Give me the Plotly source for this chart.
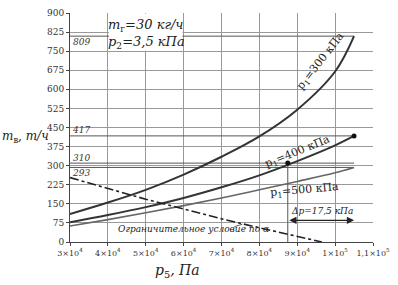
import plotly.graph_objects as go

# ---- data ----
p5 = [3e4, 4e4, 5e4, 6e4, 7e4, 8e4, 9e4, 1e5, 1.05e5]
m_p300 = [110, 155, 205, 265, 335, 415, 520, 670, 809]
m_p400 = [78, 106, 137, 173, 215, 262, 318, 380, 417]
m_p500 = [63, 88, 115, 143, 173, 205, 238, 272, 293]

p5_limit = [3e4, 4e4, 5e4, 6e4, 7e4, 8e4, 9e4, 9.65e4]
m_limit = [253, 209, 168, 130, 91, 56, 23, 0]

ref_levels = [809, 417, 310, 293]
ref_labels = ["809", "417", "310", "293"]
dp_start, dp_end = 8.75e4, 1.05e5

xtick_vals = [3e4, 4e4, 5e4, 6e4, 7e4, 8e4, 9e4, 1e5, 1.1e5]
xtick_text = ["3×10<sup>4</sup>", "4×10<sup>4</sup>", "5×10<sup>4</sup>", "6×10<sup>4</sup>",
              "7×10<sup>4</sup>", "8×10<sup>4</sup>", "9×10<sup>4</sup>", "1×10<sup>5</sup>",
              "1,1×10<sup>5</sup>"]
ytick_vals = list(range(0, 901, 75))

FONT = "DejaVu Serif"
fig = go.Figure()

for lv in ref_levels:
    fig.add_trace(go.Scatter(x=[3e4, 1.05e5], y=[lv, lv], mode="lines",
                             line=dict(color="#555", width=1), hoverinfo="skip", showlegend=False))
fig.add_trace(go.Scatter(x=[dp_start, dp_start], y=[0, 310], mode="lines",
                         line=dict(color="#555", width=1), showlegend=False))

fig.add_trace(go.Scatter(x=p5, y=m_p500, mode="lines", line=dict(color="#666", width=1.6, shape="spline"), showlegend=False))
fig.add_trace(go.Scatter(x=p5, y=m_p400, mode="lines", line=dict(color="#333", width=2, shape="spline"), showlegend=False))
fig.add_trace(go.Scatter(x=p5, y=m_p300, mode="lines", line=dict(color="#333", width=2, shape="spline"), showlegend=False))
fig.add_trace(go.Scatter(x=p5_limit, y=m_limit, mode="lines",
                         line=dict(color="#222", width=1.6, dash="dashdot"), showlegend=False))
fig.add_trace(go.Scatter(x=[dp_start, 1.05e5], y=[310, 417], mode="markers",
                         marker=dict(color="#111", size=5), showlegend=False))

fig.add_shape(type="rect", xref="x", yref="y", x0=4.03e4, x1=5.97e4, y0=752, y1=897,
              fillcolor="white", line=dict(width=0), layer="above")
fig.add_annotation(x=5.03e4, y=818, xref="x", yref="y", showarrow=False, align="left",
                   xanchor="center", yanchor="middle",
                   text="<i>m</i><sub>г</sub><i>=30 кг/ч</i><br><i>p</i><sub>2</sub><i>=3,5 кПа</i>",
                   font=dict(family=FONT, size=13, color="#222"))

lab_y = [785, 442, 331, 272]
for t, yy in zip(ref_labels, lab_y):
    fig.add_annotation(x=3.3e4, y=yy, xref="x", yref="y", showarrow=False, text="<i>" + t + "</i>",
                       font=dict(family=FONT, size=9, color="#333"))

fig.add_annotation(x=9.62e4, y=712, text="p<sub>1</sub>=300 кПа", showarrow=False, textangle=-52,
                   font=dict(family=FONT, size=11, color="#222"))
fig.add_annotation(x=9.0e4, y=355, text="p<sub>1</sub>=400 кПа", showarrow=False, textangle=-22,
                   font=dict(family=FONT, size=11, color="#222"))
fig.add_annotation(x=9.2e4, y=206, text="p<sub>1</sub>=500 кПа", showarrow=False, textangle=-5,
                   font=dict(family=FONT, size=11, color="#222"))

fig.add_annotation(x=9.66e4, y=120, text="<i>Δp=17,5 кПа</i>", showarrow=False,
                   font=dict(family=FONT, size=9, color="#222"))
fig.add_annotation(x=dp_end, y=85, ax=dp_start, ay=85, xref="x", yref="y", axref="x", ayref="y",
                   text="", showarrow=True, arrowhead=2, arrowside="end+start", arrowsize=1.2,
                   arrowwidth=1.2, arrowcolor="#222")

fig.add_annotation(x=6.25e4, y=52, text="<i>Ограничительное условие по α</i>", showarrow=False,
                   font=dict(family=FONT, size=9, color="#222"))
fig.add_annotation(x=7.55e4, y=70, ax=7.3e4, ay=58, xref="x", yref="y", axref="x", ayref="y",
                   text="", showarrow=True, arrowhead=0, arrowwidth=0.8, arrowcolor="#333")

fig.add_annotation(x=-0.148, y=0.46, xref="paper", yref="paper", showarrow=False,
                   xanchor="center", yanchor="middle",
                   text="<i>m</i><sub>в</sub><i>, т/ч</i>", font=dict(family=FONT, size=12, color="#222"))
fig.add_annotation(x=0.355, y=-0.128, xref="paper", yref="paper", showarrow=False,
                   xanchor="center", yanchor="middle",
                   text="<i>p</i><sub>5</sub><i>, Па</i>", font=dict(family=FONT, size=14, color="#222"))

fig.update_xaxes(range=[3e4, 1.1e5], tickvals=xtick_vals, ticktext=xtick_text,
                 showgrid=True, gridcolor="#999", gridwidth=1, zeroline=False,
                 showline=True, linecolor="#444", linewidth=1, ticks="outside", ticklen=3,
                 tickcolor="#444", tickfont=dict(family=FONT, size=8, color="#333"),
                 ticklabeloverflow="allow")
fig.update_yaxes(range=[0, 900], tickvals=ytick_vals,
                 showgrid=True, gridcolor="#999", gridwidth=1, zeroline=False,
                 showline=True, linecolor="#444", linewidth=1, ticks="outside", ticklen=3,
                 tickcolor="#444", tickfont=dict(family=FONT, size=9, color="#333"))

fig.update_layout(width=398, height=285, margin=dict(l=70, r=17, t=8, b=43),
                  plot_bgcolor="white", paper_bgcolor="white", showlegend=False,
                  font=dict(family=FONT))
fig.write_html("out.html", config={"displayModeBar": False},
               post_script="document.body.style.margin='0';")
